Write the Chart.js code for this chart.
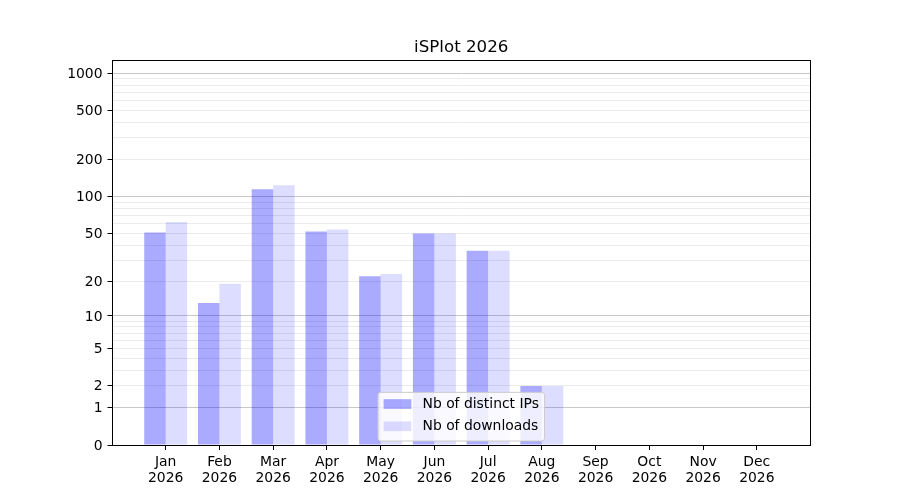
<!DOCTYPE html>
<html>
<head>
<meta charset="utf-8">
<title>iSPlot 2026</title>
<script src="https://cdn.jsdelivr.net/npm/chart.js@4.4.1/dist/chart.umd.min.js"></script>
<style>
	html, body { margin: 0; padding: 0; background: #fff; }
	#wrap { width: 900px; height: 500px; }
</style>
</head>
<body>
<div id="wrap"><canvas id="chart" width="900" height="500"></canvas></div>
<script>
// Données du graphique
const months = ["Jan", "Feb", "Mar", "Apr", "May", "Jun", "Jul", "Aug", "Sep", "Oct", "Nov", "Dec"];
const year = "2026";
const distinctIPs = [51, 13, 115, 52, 22, 50, 36, 2, 0, 0, 0, 0];
const downloads = [62, 19, 124, 54, 23, 50, 36, 2, 0, 0, 0, 0];

// Graduations de l'axe Y (échelle log10(1 + y))
const yTickLabels = [0, 1, 2, 5, 10, 20, 50, 100, 200, 500, 1000];
const yMajorGrid = [1, 10, 100, 1000];
const yGridValues = [
	0, 1, 2, 3, 4, 5, 6, 7, 8, 9,
	10, 20, 30, 40, 50, 60, 70, 80, 90,
	100, 200, 300, 400, 500, 600, 700, 800, 900,
	1000,
];

const FONT = "DejaVu Sans";
const FS = 13.9; // 10pt

/**
 * Échelle log10(1 + v) : linéaire près de zéro, logarithmique ensuite.
 */
class Log1pScale extends Chart.Scale {
	determineDataLimits() {
		const { min, max } = this.getMinMax(false);
		this.min = this.options.min ?? Math.min(0, min);
		this.max = this.options.max ?? max;
	}
	buildTicks() {
		return yGridValues.map((v) => ({ value: v }));
	}
	configure() {
		super.configure();
		this._tMin = Math.log10(1 + this.min);
		this._tMax = Math.log10(1 + this.max);
	}
	getLabelForValue(value) {
		return String(value);
	}
	getPixelForValue(value) {
		const t = Math.log10(1 + value);
		return this.getPixelForDecimal((t - this._tMin) / (this._tMax - this._tMin));
	}
	getValueForPixel(pixel) {
		const t = this._tMin + this.getDecimalForPixel(pixel) * (this._tMax - this._tMin);
		return Math.pow(10, t) - 1;
	}
}
Log1pScale.id = "log1p";
Log1pScale.defaults = {};
Chart.register(Log1pScale);

// Cadre noir autour de la zone de tracé
const framePlugin = {
	id: "frame",
	afterDatasetsDraw(chart) {
		const { ctx, chartArea: a } = chart;
		ctx.save();
		ctx.strokeStyle = "#000";
		ctx.lineWidth = 1;
		const l = Math.floor(a.left) + 0.5, t = Math.floor(a.top) + 0.5;
		const r = Math.floor(a.right) + 0.5, b = Math.floor(a.bottom) + 0.5;
		ctx.strokeRect(l, t, r - l, b - t);
		ctx.restore();
	},
};

// Légende en bas au centre, à l'intérieur du graphique
const lowerCenterLegend = {
	id: "lowerCenterLegend",
	afterDraw(chart) {
		const { ctx, chartArea } = chart;
		const pad = 0.4 * FS, handleW = 2 * FS, handleH = 0.7 * FS;
		const gap = 0.8 * FS, rowH = 1.1 * FS, spacing = 0.5 * FS;
		ctx.save();
		ctx.font = `${FS}px "${FONT}"`;
		const items = chart.data.datasets.map((ds) => ({ text: ds.label, color: ds.backgroundColor }));
		const textW = Math.max(...items.map((it) => ctx.measureText(it.text).width));
		const boxW = pad + handleW + gap + textW + pad;
		const boxH = 2 * pad + items.length * rowH + (items.length - 1) * spacing;
		const x0 = (chartArea.left + chartArea.right) / 2 - boxW / 2;
		const y0 = chartArea.bottom - 4 - boxH;

		ctx.beginPath();
		ctx.roundRect(x0, y0, boxW, boxH, 0.2 * FS);
		ctx.fillStyle = "rgba(255,255,255,0.8)";
		ctx.fill();
		ctx.strokeStyle = "#cccccc";
		ctx.lineWidth = 1;
		ctx.stroke();

		items.forEach((it, i) => {
			const cy = y0 + pad + rowH * 0.4 + i * (rowH + spacing);
			ctx.fillStyle = it.color;
			ctx.fillRect(x0 + pad, cy - handleH / 2, handleW, handleH);
			ctx.fillStyle = "#000";
			ctx.textBaseline = "middle";
			ctx.textAlign = "left";
			ctx.fillText(it.text, x0 + pad + handleW + gap, cy);
		});
		ctx.restore();
	},
};

Chart.defaults.font.family = FONT;
Chart.defaults.color = "#000";

new Chart(document.getElementById("chart"), {
	type: "bar",
	data: {
		datasets: [
			{
				label: "Nb of distinct IPs",
				data: distinctIPs.map((v, i) => ({ x: i, y: v })),
				backgroundColor: "rgba(0,0,255,0.333)",
				borderWidth: 0,
			},
			{
				label: "Nb of downloads",
				data: downloads.map((v, i) => ({ x: i, y: v })),
				backgroundColor: "rgba(0,0,255,0.133)",
				borderWidth: 0,
			},
		],
	},
	options: {
		responsive: false,
		animation: false,
		datasets: { bar: { categoryPercentage: 0.8, barPercentage: 1.0 } },
		layout: { padding: { left: 0, right: 90, top: 0, bottom: 0 } },
		scales: {
			x: {
				type: "linear",
				min: -0.99,
				max: 11.99,
				bounds: "data",
				offset: false,
				grid: {
					drawOnChartArea: false,
					drawTicks: true,
					tickLength: 5,
					tickColor: "#000",
					offset: false,
				},
				border: { display: false },
				ticks: {
					autoSkip: false,
					maxRotation: 0,
					padding: 5,
					color: "#000",
					font: { size: FS, lineHeight: 1.1 },
					callback: (v) => [months[v], year],
				},
				afterBuildTicks: (s) => {
					s.ticks = months.map((m, i) => ({ value: i }));
				},
				afterFit: (s) => {
					s.height = 55;
				},
			},
			y: {
				type: "log1p",
				min: 0,
				max: 1280,
				grid: {
					color: (c) => {
						if (!c.tick || c.tick.value === 0) return "rgba(0,0,0,0)";
						return yMajorGrid.includes(c.tick.value) ? "rgb(200,200,200)" : "rgb(235,235,235)";
					},
					tickColor: (c) => (c.tick && yTickLabels.includes(c.tick.value) ? "#000" : "rgba(0,0,0,0)"),
					tickLength: 5,
					lineWidth: 1,
				},
				border: { display: false },
				ticks: {
					autoSkip: false,
					padding: 5,
					labelOffset: 1,
					color: "#000",
					font: { size: FS },
					callback: (v) => (yTickLabels.includes(v) ? String(v) : ""),
				},
				afterFit: (s) => {
					s.width = 112.5;
				},
			},
		},
		plugins: {
			legend: { display: false },
			tooltip: { enabled: false },
			title: {
				display: true,
				text: "iSPlot 2026",
				fullSize: false,
				color: "#000",
				font: { size: 16.67, weight: "normal", lineHeight: 1.2 },
				padding: { top: 38, bottom: 2 },
			},
		},
	},
	plugins: [framePlugin, lowerCenterLegend],
});
</script>
</body>
</html>
